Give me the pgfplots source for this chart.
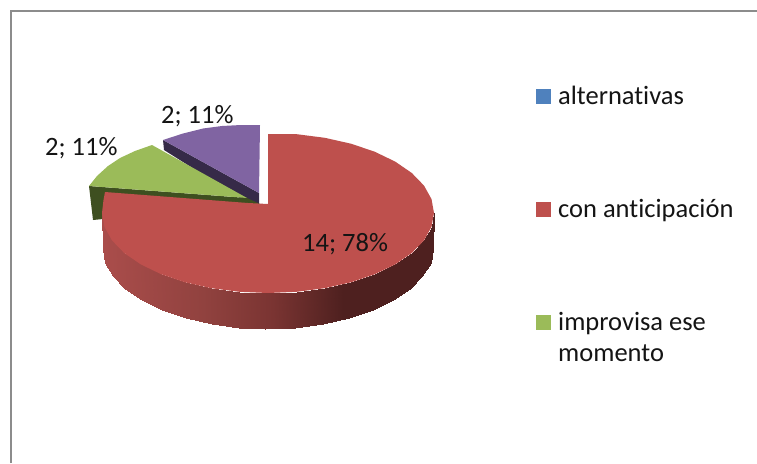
\documentclass[border=0pt]{standalone}
\usepackage{fontspec}
\setmainfont[Ligatures=NoCommon]{Carlito}
\usepackage{pgfplots}
\pgfplotsset{compat=1.18}
\definecolor{pRed}{RGB}{190,80,77}
\definecolor{pGreen}{RGB}{155,187,89}
\definecolor{pPurple}{RGB}{128,100,162}
\definecolor{pBlue}{RGB}{79,129,189}
\definecolor{dGreen}{RGB}{62,79,32}
\definecolor{dPurple}{RGB}{54,42,72}
\definecolor{frameGray}{RGB}{140,140,140}
\pgfplotsset{
  colormap={sideRed}{rgb255(0)=(170,77,75) rgb255(100)=(145,66,63) rgb255(170)=(122,52,50) rgb255(240)=(78,32,31) rgb255(331)=(78,32,31)}
}
\begin{document}
\begin{tikzpicture}
\begin{axis}[
  scale only axis, width=757pt, height=463pt,
  xmin=0, xmax=757, ymin=0, ymax=463, y dir=reverse,
  hide axis, clip=true,
  point meta min=103, point meta max=434,
  colormap name=sideRed,
  nodes={font=\fontsize{26.5}{31}\selectfont, text=black!92, inner sep=0pt},
]
% page background
\addplot[draw=none, fill=white] coordinates {(0,0) (757,0) (757,463) (0,463)} -- cycle;
% frame
\addplot[draw=frameGray, line width=1.6pt] coordinates {(11,463) (11,11) (757,11)};
% purple slice
\addplot[draw=none, fill=dPurple] coordinates {(163,140) (164,150) (248,203) (259,204) (259,193)} -- cycle;
\addplot[draw=none, fill=pPurple] coordinates {(259,193) (163,140) (183,133.5) (203,128.5) (222,126) (241,125) (260,125)} -- cycle;
% green slice
\addplot[draw=none, fill=dGreen] coordinates {(89,186) (247,198) (260,204) (105,205) (103,219) (93,220)} -- cycle;
\addplot[draw=none, fill=pGreen] coordinates {(247,198) (152,145) (135,151) (120,158) (108,166) (97,176) (89,186)} -- cycle;
% red side
\addplot[surf, shader=interp, mesh/rows=2, point meta=x] table {
x y
102 213
104.5 226.9
112 240.4
124.2 253
140.8 264.4
161.3 274.3
185 282.3
211.2 288.2
239.2 291.8
268 293
296.8 291.8
324.8 288.2
351 282.3
374.7 274.3
395.2 264.4
411.8 253
424 240.4
431.5 226.9
434 213
103 249
105.5 262.9
113 276.4
125.2 289
141.8 300.4
162.3 310.3
186 318.3
212 324.2
239.2 327.8
265 329
294.8 327.8
322.8 324.2
349 318.3
372.7 310.3
393.2 300.4
409.8 289
422 276.4
430.5 262.9
433 249
};
% red top
\addplot[draw=none, fill=pRed] coordinates {(268,204) (268,134) (296.8,134.2) (324.8,137.8) (351,143.7) (374.7,151.7) (395.2,161.6) (411.8,173) (424,185.6) (431.5,199.1) (434,213) (431.5,226.9) (424,240.4) (411.8,253) (395.2,264.4) (374.7,274.3) (351,282.3) (324.8,288.2) (296.8,291.8) (268,293) (239.2,291.8) (211.2,288.2) (185,282.3) (161.3,274.3) (140.8,264.4) (124.2,253) (112,240.4) (104.5,226.9) (102,213) (103.5,200) (105,192) (248,203)} -- cycle;
% legend keys
\addplot[draw=none, fill=pBlue] coordinates {(536,89) (551,89) (551,104) (536,104)} -- cycle;
\addplot[draw=none, fill=pRed] coordinates {(536,202) (551,202) (551,217) (536,217)} -- cycle;
\addplot[draw=none, fill=pGreen] coordinates {(536,315) (551,315) (551,330) (536,330)} -- cycle;
% legend text
\node[anchor=base west] at (axis cs:558,104) {alternativas};
\node[anchor=base west] at (axis cs:558,217) {con anticipación};
\node[anchor=base west] at (axis cs:558,330) {improvisa ese};
\node[anchor=base west] at (axis cs:558,361) {momento};
% data labels
\node[anchor=base west] at (axis cs:161,123) {2; 11\%};
\node[anchor=base west] at (axis cs:45,155) {2; 11\%};
\node[anchor=base west] at (axis cs:302,251) {14; 78\%};
\end{axis}
\end{tikzpicture}
\end{document}
